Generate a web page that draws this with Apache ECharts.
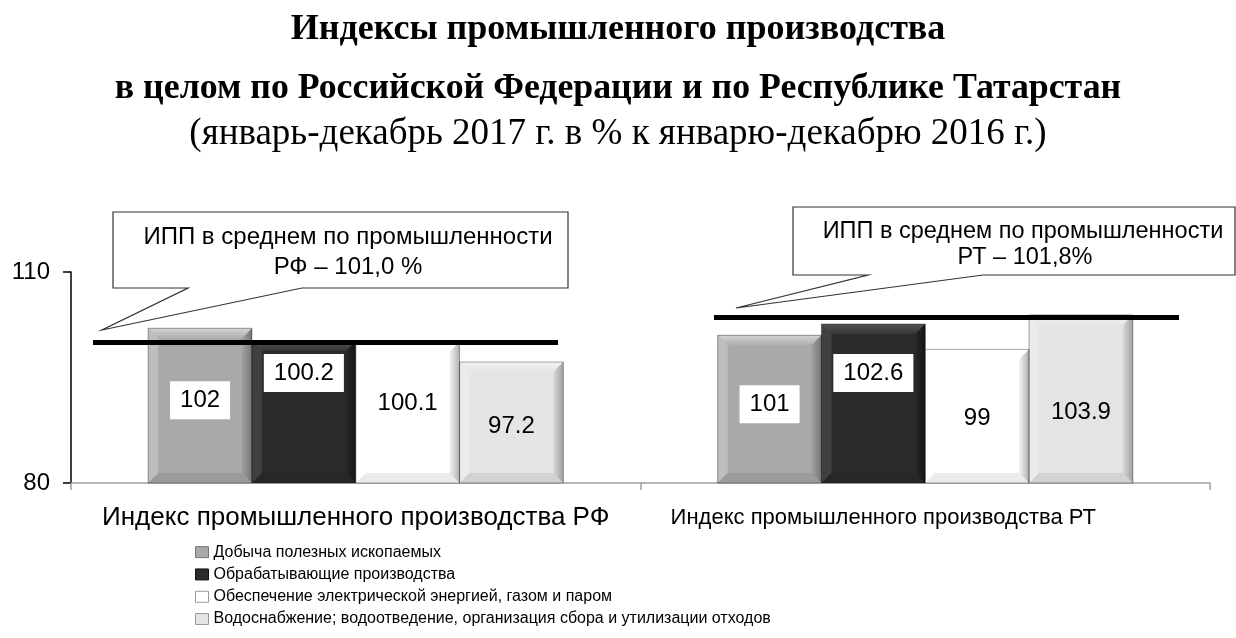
<!DOCTYPE html>
<html><head><meta charset="utf-8">
<script src="https://cdn.jsdelivr.net/npm/echarts@6/dist/echarts.min.js"></script>
<style>html,body{margin:0;padding:0;background:#fff}#c{width:1236px;height:638px}</style>
</head><body><div id="c"></div>
<script>
// ---- data ----
const categories = ['Индекс промышленного производства РФ', 'Индекс промышленного производства РТ'];
const seriesNames = [
  'Добыча полезных ископаемых',
  'Обрабатывающие производства',
  'Обеспечение электрической энергией, газом и паром',
  'Водоснабжение; водоотведение, организация сбора и утилизации отходов'
];
const valuesRF = [102, 100.2, 100.1, 97.2];
const valuesRT = [101, 102.6, 99, 103.9];
const avgLabels = ['ИПП в среднем по промышленности', 'РФ – 101,0 %', 'РТ – 101,8%'];
const avgLineLevel = [100.0, 103.6];   // drawn level of the black average lines
const yTicks = [80, 110];

// ---- styles ----
const faceColors = ['#a9a9a9', '#2b2b2b', '#ffffff', '#e4e4e4'];
const legendBorder = ['#777', '#111', '#999', '#999'];
const labelBg = ['#ffffff', '#ffffff', 'transparent', 'transparent'];
const labelDist = [[53, 50], [13, 30], [43, 50], [45, 78]];
const GAP = 0.271;
const SANS = 'Liberation Sans, Arial, sans-serif';
const SERIF = 'Liberation Serif, Times New Roman, serif';

const chart = echarts.init(document.getElementById('c'), null, {renderer: 'canvas'});

const barSeries = seriesNames.map((name, s) => ({
  name, type: 'bar', z: 2,
  barGap: '0%', barCategoryGap: (GAP * 100) + '%',
  itemStyle: {color: faceColors[s]},
  label: {
    show: true, position: 'insideTop', color: '#000', fontFamily: SANS, fontSize: 24,
    backgroundColor: labelBg[s], padding: [7, 10]
  },
  data: [valuesRF[s], valuesRT[s]].map((v, c) => ({value: v, label: {distance: labelDist[s][c]}}))
}));

const bevelData = [];
seriesNames.forEach((n, s) => {
  bevelData.push([0, valuesRF[s], s]);
  bevelData.push([1, valuesRT[s], s]);
});

function bevel(params, api) {
  const c = api.value(0), v = api.value(1), s = api.value(2);
  const base = api.coord([c, yTicks[0]]);
  const top = api.coord([c, v]);
  const band = api.size([1, 0])[0];
  const bw = band * (1 - GAP) / 4;
  const x0 = base[0] - 2 * bw + s * bw, x1 = x0 + bw;
  const y0 = top[1], y1 = base[1];
  const b = 10;
  const dark = s === 1 ? 'rgba(0,0,0,0.55)' : 'rgba(0,0,0,0.3)';
  const light = s === 1 ? 'rgba(255,255,255,0.2)' : 'rgba(255,255,255,0.5)';
  const grad = (x, y, x2, y2, c1, c2) => new echarts.graphic.LinearGradient(x, y, x2, y2, [{offset: 0, color: c1}, {offset: 1, color: c2}]);
  return {type: 'group', children: [
    {type: 'polygon', shape: {points: [[x0, y0], [x1, y0], [x1 - b, y0 + b], [x0 + b, y0 + b]]},
     style: {fill: grad(0, 0, 0, 1, light, 'rgba(255,255,255,0.05)')}},
    {type: 'polygon', shape: {points: [[x0, y0], [x0 + b, y0 + b], [x0 + b, y1 - b], [x0, y1]]},
     style: {fill: s === 1 ? 'rgba(255,255,255,0.1)' : 'rgba(255,255,255,0.25)'}},
    {type: 'polygon', shape: {points: [[x1, y0], [x1, y1], [x1 - b, y1 - b], [x1 - b, y0 + b]]},
     style: {fill: grad(0, 0, 1, 0, 'rgba(0,0,0,0.05)', dark)}},
    {type: 'polygon', shape: {points: [[x0, y1], [x1, y1], [x1 - b, y1 - b], [x0 + b, y1 - b]]},
     style: {fill: 'rgba(0,0,0,0.08)'}},
    {type: 'rect', shape: {x: x0, y: y0, width: bw, height: y1 - y0}, style: {fill: 'none', stroke: 'rgba(0,0,0,0.35)', lineWidth: 1}}
  ]};
}

const option = {
  backgroundColor: '#fff',
  animation: false,
  title: [
    {text: 'Индексы промышленного производства', left: 'center', top: 12, padding: 0,
     textStyle: {fontFamily: SERIF, fontSize: 36, fontWeight: 'bold', color: '#000'}},
    {text: 'в целом по Российской Федерации и по Республике Татарстан', left: 'center', top: 71, padding: 0,
     textStyle: {fontFamily: SERIF, fontSize: 35.8, fontWeight: 'bold', color: '#000'}},
    {text: '(январь-декабрь 2017 г. в % к январю-декабрю 2016 г.)', left: 'center', top: 116, padding: 0,
     textStyle: {fontFamily: SERIF, fontSize: 37, fontWeight: 'normal', color: '#000'}}
  ],
  legend: {
    orient: 'vertical', left: 195, top: 542, padding: 0,
    itemWidth: 13, itemHeight: 11, itemGap: 2, icon: 'rect',
    textStyle: {fontFamily: SANS, fontSize: 16, color: '#000', lineHeight: 20.3},
    data: seriesNames.map((name, s) => ({name, itemStyle: {borderColor: legendBorder[s], borderWidth: 1}}))
  },
  grid: {left: 71, right: 26, top: 272, bottom: 155},
  xAxis: {
    type: 'category', data: categories,
    axisLine: {lineStyle: {color: '#a0a0a0', width: 1.5}},
    axisTick: {show: true, length: 7, lineStyle: {color: '#a0a0a0', width: 1.5}},
    axisLabel: {
      interval: 0, margin: 20, color: '#000', fontFamily: SANS, fontSize: 26,
      formatter: (v, i) => i === 1 ? '{b|' + v + '}' : '{a|' + v + '}',
      rich: {a: {fontFamily: SANS, fontSize: 26, lineHeight: 30, color: '#000'},
             b: {fontFamily: SANS, fontSize: 22, lineHeight: 30, color: '#000', padding: [0, 84, 0, 0]}}
    }
  },
  yAxis: {
    type: 'value', min: yTicks[0], max: yTicks[1], interval: yTicks[1] - yTicks[0],
    axisLine: {show: true, lineStyle: {color: '#000', width: 1.5}},
    axisTick: {show: true, length: 8, lineStyle: {color: '#000', width: 1.5}},
    axisLabel: {margin: 21, color: '#000', fontFamily: SANS, fontSize: 24},
    splitLine: {show: false}
  },
  series: barSeries.concat([{
    name: 'bevel', type: 'custom', z: 3, silent: true,
    renderItem: bevel, encode: {x: 0, y: 1}, data: bevelData,
    markLine: {
      silent: true, symbol: 'none', label: {show: false},
      lineStyle: {color: '#000', width: 5, type: 'solid'},
      data: [
        [{xAxis: 0, yAxis: avgLineLevel[0], x: 93}, {xAxis: 0, yAxis: avgLineLevel[0], x: 558}],
        [{xAxis: 1, yAxis: avgLineLevel[1], x: 714}, {xAxis: 1, yAxis: avgLineLevel[1], x: 1179}]
      ]
    }
  }]),
  graphic: [
    {type: 'polygon', z: 10, shape: {points: [[113, 212], [568, 212], [568, 288], [302, 288], [102, 330], [188, 288], [113, 288]]},
     style: {fill: '#fff', stroke: '#333', lineWidth: 1.2}},
    {type: 'text', z: 11, style: {text: avgLabels[0], x: 348, y: 237, align: 'center', verticalAlign: 'middle', font: '24px ' + SANS, fill: '#000'}},
    {type: 'text', z: 11, style: {text: avgLabels[1], x: 348, y: 267, align: 'center', verticalAlign: 'middle', font: '24px ' + SANS, fill: '#000'}},
    {type: 'polygon', z: 10, shape: {points: [[793, 207], [1235, 207], [1235, 275], [983, 275], [736, 308], [868, 275], [793, 275]]},
     style: {fill: '#fff', stroke: '#333', lineWidth: 1.2}},
    {type: 'text', z: 11, style: {text: avgLabels[0], x: 1023, y: 232, align: 'center', verticalAlign: 'middle', font: '23.5px ' + SANS, fill: '#000'}},
    {type: 'text', z: 11, style: {text: avgLabels[2], x: 1025, y: 258, align: 'center', verticalAlign: 'middle', font: '23.5px ' + SANS, fill: '#000'}}
  ]
};
chart.setOption(option);
</script></body></html>
